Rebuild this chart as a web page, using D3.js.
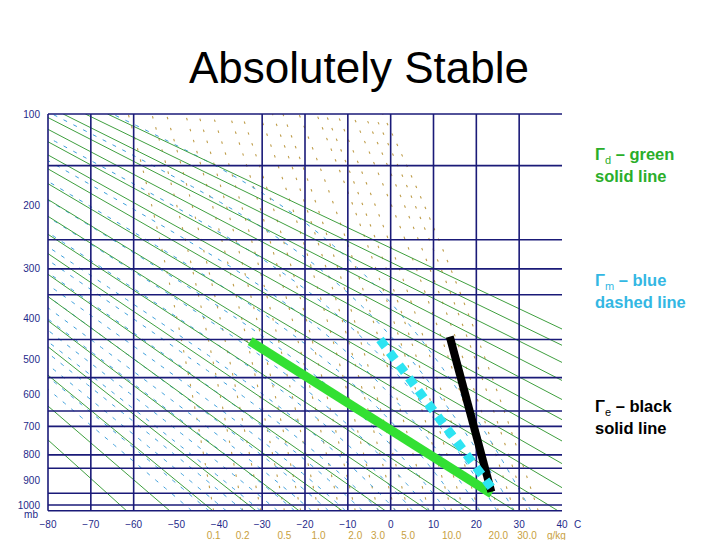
<!DOCTYPE html>
<html>
<head>
<meta charset="utf-8">
<script src="https://cdn.jsdelivr.net/npm/d3@7"></script>
<style>
  html, body { margin: 0; padding: 0; background: #fff; }
  svg { display: block; }
</style>
</head>
<body>
<svg id="chart" width="720" height="540"></svg>
<script>
// ---------------- data ----------------
const tempTicks = [-80, -70, -60, -50, -40, -30, -20, -10, 0, 10, 20, 30, 40];
const isothermGrid = [-80, -70, -60, -30, -20, -10, 0, 10, 20, 30];
const pressureTicks = [100, 200, 300, 400, 500, 600, 700, 800, 900, 1000];
const isobarGrid = [100, 150, 250, 300, 350, 450, 550, 650, 700, 800, 850, 950, 1000, 1025];
const dryAdiabatTheta = [210, 220, 230, 240, 250, 260, 270, 280, 290, 300, 310, 320, 330, 340, 350, 360, 370, 380, 390, 400];
const moistAdiabatBaseT = [-48, -44, -40, -36, -32, -28, -24, -20, -16, -12, -8, -4, 0, 4, 8, 12, 16, 20, 24, 28, 32];
const mixingRatioLines = [0.1, 0.2, 0.3, 0.5, 0.7, 1, 1.5, 2, 3, 4, 5, 7, 10, 12, 15, 20, 25, 30, 35];
const mixingRatioLabels = [0.1, 0.2, 0.5, 1, 2, 3, 5, 10, 20, 30];

// highlighted profiles (T in °C, p in mb)
const dryLineT = [-32.8, 23.6];
const dryLineP = [454, 953];
const moistLineT = [-2.5, 24.4];
const moistLineP = [450, 948];
const envLineT = [13.8, 23.5];
const envLineP = [443, 944];

const legendItems = [
  { sym: "Γ", sub: "d", rest: " – green", line2: "solid line", color: "#2aae2a" },
  { sym: "Γ", sub: "m", rest: " – blue", line2: "dashed line", color: "#33b7e3" },
  { sym: "Γ", sub: "e", rest: " – black", line2: "solid line", color: "#000000" }
];

// ---------------- scales ----------------
const KAPPA = 0.286;
const x = d3.scaleLinear().domain([-80, 40]).range([48, 562]);
const y = d3.scalePow().exponent(KAPPA).domain([100, 1000]).range([114, 505]);
const pTop = 100, pBot = 1025;

const svg = d3.select("#chart");

svg.append("defs").append("clipPath").attr("id", "plotclip")
  .append("rect")
  .attr("x", x(-80)).attr("y", y(pTop))
  .attr("width", x(40) - x(-80)).attr("height", y(pBot) - y(pTop));

// Title
svg.append("text")
  .attr("x", 359).attr("y", 83)
  .attr("text-anchor", "middle")
  .attr("font-family", "Liberation Sans, Arial, sans-serif")
  .attr("font-size", 44)
  .attr("fill", "#000")
  .text("Absolutely Stable");

// ---------------- physics helpers for reference curves ----------------
function es(Tc) { return 6.112 * Math.exp(17.67 * Tc / (Tc + 243.5)); }
function ws(Tc, p) { const e = es(Tc); return 0.622 * e / (p - e); }
function tdFromW(wgkg, p) {
  const w = wgkg / 1000;
  const e = w * p / (0.622 + w);
  const l = Math.log(e / 6.112);
  return 243.5 * l / (17.67 - l);
}
function dTdlnp(Tk, p) {
  const Rd = 287.04, cp = 1005.7, L = 2.501e6, eps = 0.622;
  const w = ws(Tk - 273.15, p);
  return (Rd * Tk + L * w) / (cp + L * L * w * eps / (Rd * Tk * Tk));
}
function integrate(T0c, pStart, pEnd, step) {
  const out = [];
  let Tk = T0c + 273.15, p = pStart;
  const dir = pEnd < pStart ? -1 : 1;
  while ((dir < 0 && p > pEnd) || (dir > 0 && p < pEnd)) {
    const p2 = dir < 0 ? Math.max(pEnd, p - step) : Math.min(pEnd, p + step);
    const h = Math.log(p2) - Math.log(p);
    const pm = Math.exp(Math.log(p) + h / 2);
    const k1 = dTdlnp(Tk, p);
    const k2 = dTdlnp(Tk + h / 2 * k1, pm);
    const k3 = dTdlnp(Tk + h / 2 * k2, pm);
    const k4 = dTdlnp(Tk + h * k3, p2);
    Tk = Tk + h / 6 * (k1 + 2 * k2 + 2 * k3 + k4);
    p = p2;
    out.push([Tk - 273.15, p]);
  }
  return out;
}
function moistCurve(T0c) {
  const up = integrate(T0c, 1000, pTop, 5);
  const down = integrate(T0c, 1000, pBot, 5);
  return down.reverse().concat([[T0c, 1000]], up);
}
const levels = [];
for (let p = pBot; p >= pTop; p -= 5) levels.push(p);
if (levels[levels.length - 1] !== pTop) levels.push(pTop);

const line = d3.line().x(d => x(d[0])).y(d => y(d[1]));

const plot = svg.append("g").attr("clip-path", "url(#plotclip)");

// mixing ratio lines (gold dotted)
plot.append("g").selectAll("path")
  .data(mixingRatioLines).join("path")
  .attr("d", w => line(levels.map(p => [tdFromW(w, p), p])))
  .attr("fill", "none")
  .attr("stroke", "#bf9d4a")
  .attr("stroke-width", 1.1)
  .attr("stroke-dasharray", "2.5,9");

// moist adiabats (blue dashed)
plot.append("g").selectAll("path")
  .data(moistAdiabatBaseT).join("path")
  .attr("d", t => line(moistCurve(t)))
  .attr("fill", "none")
  .attr("stroke", "#3d9fdc")
  .attr("stroke-width", 1)
  .attr("stroke-dasharray", "4,7");

// dry adiabats (green solid)
plot.append("g").selectAll("path")
  .data(dryAdiabatTheta).join("path")
  .attr("d", th => line([pBot, pTop].map(p => [th * Math.pow(p / 1000, KAPPA) - 273.15, p])))
  .attr("fill", "none")
  .attr("stroke", "#3f9f3f")
  .attr("stroke-width", 1);

// grid: isobars
const grid = svg.append("g").attr("stroke", "#1a1a78").attr("stroke-width", 1.6);
grid.selectAll("line.h").data(isobarGrid).join("line")
  .attr("class", "h")
  .attr("x1", x(-80)).attr("x2", x(40))
  .attr("y1", d => y(d)).attr("y2", d => y(d));
// isotherms
grid.selectAll("line.v").data(isothermGrid).join("line")
  .attr("class", "v")
  .attr("x1", d => x(d)).attr("x2", d => x(d))
  .attr("y1", y(pTop)).attr("y2", y(pBot));

// highlighted lines
const zip = (a, b) => a.map((v, i) => [v, b[i]]);
svg.append("path")
  .attr("d", line(zip(dryLineT, dryLineP)))
  .attr("fill", "none").attr("stroke", "#33e033").attr("stroke-width", 9);
svg.append("path")
  .attr("d", line(zip(envLineT, envLineP)))
  .attr("fill", "none").attr("stroke", "#000").attr("stroke-width", 8);
svg.append("path")
  .attr("d", line(zip(moistLineT, moistLineP)))
  .attr("fill", "none").attr("stroke", "#2ee4f2").attr("stroke-width", 9)
  .attr("stroke-dasharray", "9,7");

// ---------------- axis labels ----------------
const axisFont = "Liberation Sans, Arial, sans-serif";
const fmtT = d => (d < 0 ? "\u2212" + Math.abs(d) : String(d));
svg.append("g").selectAll("text").data(tempTicks).join("text")
  .attr("x", d => x(d)).attr("y", 527.5)
  .attr("text-anchor", "middle")
  .attr("font-family", axisFont).attr("font-size", 10)
  .attr("fill", "#1e2a8a")
  .text(fmtT);
svg.append("text").attr("x", 574).attr("y", 527.5)
  .attr("font-family", axisFont).attr("font-size", 10).attr("fill", "#1e2a8a").text("C");

svg.append("g").selectAll("text").data(pressureTicks).join("text")
  .attr("x", 40).attr("y", d => y(d) + 3.5)
  .attr("text-anchor", "end")
  .attr("font-family", axisFont).attr("font-size", 10)
  .attr("fill", "#1e2a8a")
  .text(d => d);
svg.append("text").attr("x", 38).attr("y", 518).attr("text-anchor", "end")
  .attr("font-family", axisFont).attr("font-size", 10).attr("fill", "#1e2a8a").text("mb");

svg.append("g").selectAll("text").data(mixingRatioLabels).join("text")
  .attr("x", d => x(tdFromW(d, pBot)))
  .attr("y", 539)
  .attr("text-anchor", "middle")
  .attr("font-family", axisFont).attr("font-size", 10)
  .attr("fill", "#c8a040")
  .text(d => d.toFixed(1));
svg.append("text").attr("x", 547).attr("y", 539)
  .attr("font-family", axisFont).attr("font-size", 10).attr("fill", "#c8a040").text("g/kg");

// ---------------- legend ----------------
const legendTop = [160, 286, 412];
legendItems.forEach((it, i) => {
  const t = svg.append("text")
    .attr("x", 595).attr("y", legendTop[i])
    .attr("font-family", axisFont).attr("font-size", 16.5).attr("font-weight", "bold")
    .attr("fill", it.color);
  t.append("tspan").text(it.sym);
  t.append("tspan").attr("font-size", 11).attr("font-weight", "normal").attr("dy", 4).text(it.sub);
  t.append("tspan").attr("dy", -4).text(it.rest);
  svg.append("text")
    .attr("x", 595).attr("y", legendTop[i] + 22)
    .attr("font-family", axisFont).attr("font-size", 16.5).attr("font-weight", "bold")
    .attr("fill", it.color)
    .text(it.line2);
});
</script>
</body>
</html>
